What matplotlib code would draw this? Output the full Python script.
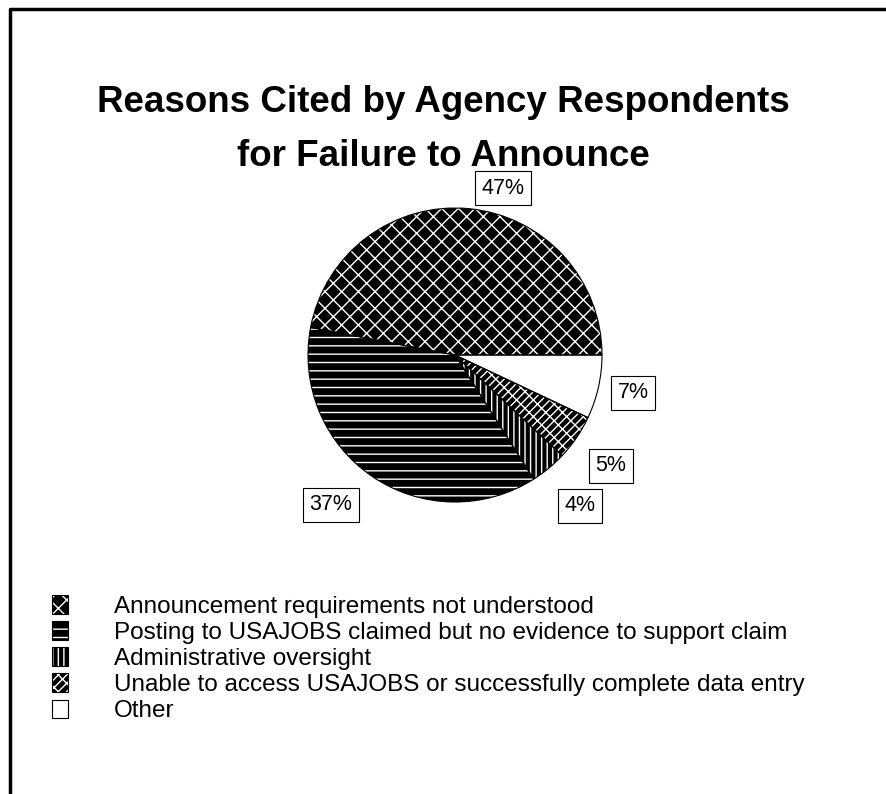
import numpy as np
from matplotlib import pyplot as plt
from matplotlib.patches import Patch
from matplotlib.legend_handler import HandlerTuple
from matplotlib.lines import Line2D

plt.rcParams['font.family'] = ['Liberation Sans', 'DejaVu Sans']

reasons = ['Announcement requirements not understood',
           'Posting to USAJOBS claimed but no evidence to support claim',
           'Administrative oversight',
           'Unable to access USAJOBS or successfully complete data entry',
           'Other']
shares = [47, 37, 4, 5, 7]
pct_labels = ['47%', '37%', '4%', '5%', '7%']

hatches = ['xx', '--', '|||', 'xx//', '']
fills = ['black', 'black', 'black', 'black', 'white']

W, H = 887, 794
fig = plt.figure(figsize=(W / 100, H / 100), dpi=100)
ax = fig.add_axes([0, 0, 1, 1])

center = (455, H - 355)
radius = 147

# filled wedges, white hatch lines
wedges, _ = ax.pie(shares, startangle=0, counterclock=True, center=center,
                   radius=radius, frame=True,
                   wedgeprops=dict(edgecolor='white', linewidth=0))
for w, h, c in zip(wedges, hatches, fills):
    w.set_facecolor(c)
    w.set_hatch(h)

# black outlines on top
outlines, _ = ax.pie(shares, startangle=0, counterclock=True, center=center,
                     radius=radius, frame=True,
                     wedgeprops=dict(facecolor='none', edgecolor='black', linewidth=0.8))

# percent labels (positions in pixels, y from top)
label_pos = [(503, 188), (331, 505), (580, 506), (611, 466), (633, 393)]
for (lx, ly), t in zip(label_pos, pct_labels):
    ax.text(lx, H - ly, t, ha='center', va='center', fontsize=15.5,
            bbox=dict(boxstyle='square,pad=0.3', facecolor='white',
                      edgecolor='black', linewidth=0.8))

ax.set_xlim(0, W)
ax.set_ylim(0, H)
ax.axis('off')

fig.text(443 / W, 1 - 102 / H, 'Reasons Cited by Agency Respondents',
         ha='center', va='center', fontsize=26.5, fontweight='bold')
fig.text(443 / W, 1 - 156 / H, 'for Failure to Announce',
         ha='center', va='center', fontsize=26.5, fontweight='bold')

handles = []
for h, c in zip(hatches, fills):
    p1 = Patch(facecolor=c, edgecolor='white', linewidth=0, hatch=h)
    p2 = Patch(facecolor='none', edgecolor='black', linewidth=0.8)
    handles.append((p1, p2))
fig.legend(handles, reasons, handler_map={tuple: HandlerTuple(ndivide=1, pad=0)},
           loc='upper left', bbox_to_anchor=(52 / W, 1 - 595 / H), frameon=False,
           fontsize=17.5, handlelength=0.65, handleheight=0.8, handletextpad=1.9,
           labelspacing=0.14, borderpad=0, borderaxespad=0)

# partial page frame (top and left edges)
fig.add_artist(Line2D([10 / W, 10 / W, 1], [0, 1 - 9 / H, 1 - 9 / H],
                      transform=fig.transFigure, color='black', linewidth=2.5))

fig.savefig('out.png', dpi=100)
